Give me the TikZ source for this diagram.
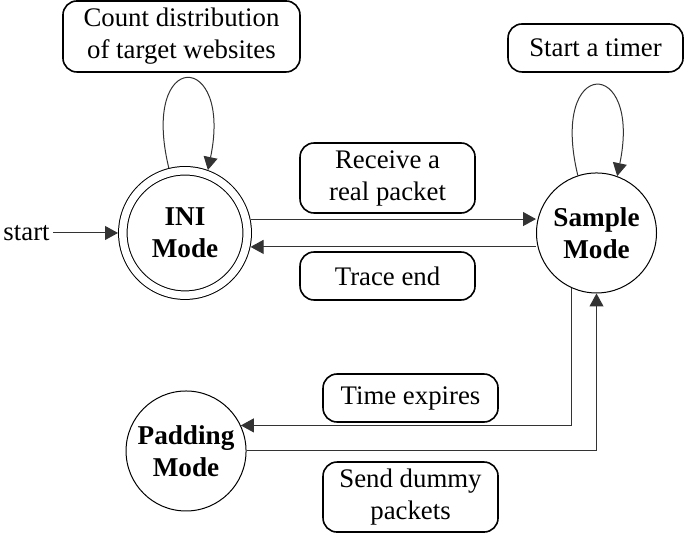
\documentclass[tikz,border=0pt]{standalone}
\usepackage{fontspec}
\setmainfont{Liberation Serif}
\usetikzlibrary{arrows.meta}
\tikzstyle{every node}=[font=\fontsize{13.4pt}{16pt}\selectfont]
\tikzstyle{statenode}=[circle,draw,line width=.5pt,minimum size=60pt,inner sep=0,align=center,font=\fontsize{13.6pt}{16pt}\selectfont\bfseries]
\tikzstyle{initnode}=[statenode,double,double distance=3.75pt,minimum size=62.2pt,outer sep=2.4pt]
\tikzstyle{actionbox}=[rectangle,draw,rounded corners=7pt,line width=.8pt,align=center,minimum width=3.075cm,minimum height=.843cm,inner sep=2pt]
\tikzstyle{transition}=[-{Triangle[length=6.5pt,width=7pt]},line width=.5pt,draw=black!80]
\newcommand{\modenode}[3]{\node[statenode] (#1) at (#2) {#3};}
\newcommand{\actnode}[4][]{\node[actionbox,#1] (#2) at (#3) {#4};}

\begin{document}
\begin{tikzpicture}
\useasboundingbox (0,0) rectangle (12.037,-9.366);
\node[initnode] (ini) at (3.251,-4.094) {INI\\Mode};
\modenode{sample}{10.482,-4.094}{Sample\\Mode}
\modenode{padding}{3.269,-7.925}{Padding\\Mode}
\node[anchor=east,inner sep=1.5pt] (start) at (0.932,-4.094) {start};

\actnode[minimum width=4.165cm,minimum height=1.248cm]{count}{3.189,-0.641}{Count distribution\\of target websites}
\actnode[minimum height=1.23cm]{receive}{6.81,-3.128}{Receive a\\real packet}
\actnode{trace}{6.81,-4.85}{Trace end}
\actnode{timer}{10.465,-0.843}{Start a timer}
\actnode{expire}{7.214,-6.994}{Time expires}
\actnode[minimum height=1.23cm]{dummy}{7.214,-8.734}{Send dummy\\packets}

\draw[transition] (start) -- (ini);
\draw[transition] (ini.104) .. controls +(-.51,2.11) and +(.44,2.11) .. (ini.70);
\draw[transition] (sample.108) .. controls +(-.51,2.11) and +(.44,2.11) .. (sample.70);
\draw[transition] (ini.12) -- (ini.12 -| sample.west);
\draw[transition] (sample.west |- ini.-12) -- (ini.-12);
\draw[transition] (sample.246) |- (padding.25);
\draw[transition] (padding.east) -| (sample.south);
\end{tikzpicture}
\end{document}
